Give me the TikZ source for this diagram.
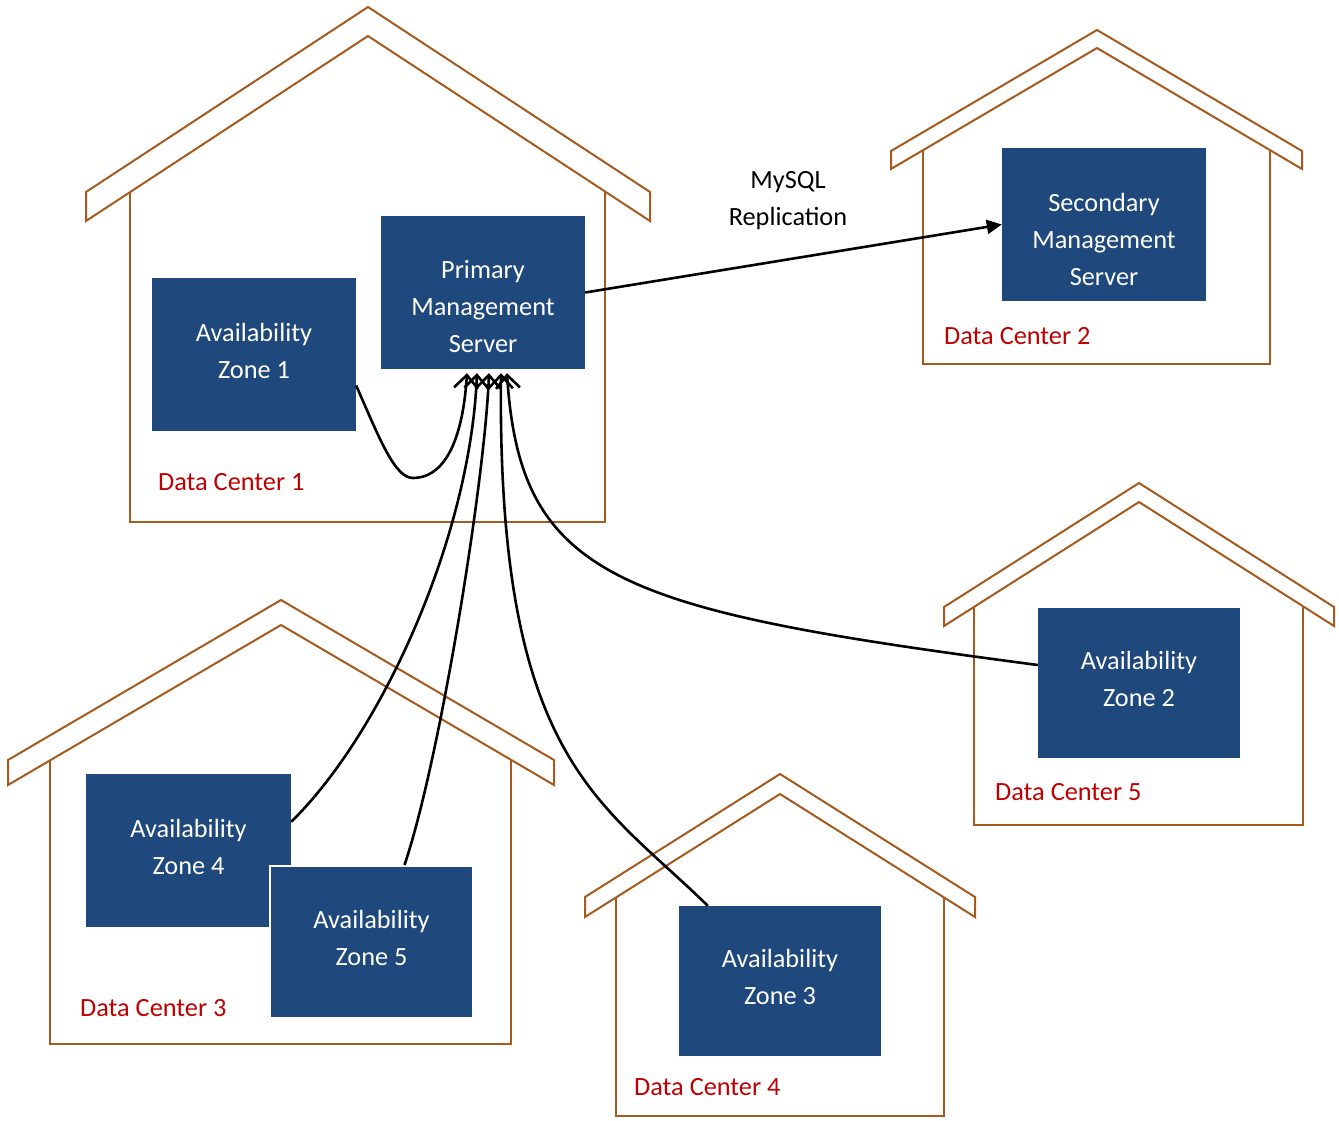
\documentclass[tikz,border=0pt]{standalone}
\usepackage{fontspec}
\setmainfont{Carlito}
\usetikzlibrary{arrows.meta}
\definecolor{boxblue}{RGB}{31,73,125}
\definecolor{roofbrown}{RGB}{166,90,30}
\definecolor{dcred}{RGB}{192,0,0}
\begin{document}
\begin{tikzpicture}[x=1pt,y=-1pt,
    house/.style={draw=roofbrown,line width=2pt,line join=miter},
    zone/.style={fill=boxblue,minimum width=204,minimum height=153,inner sep=0pt},
    zonetext/.style={text=white,align=center,inner sep=0pt},
    dclabel/.style={text=dcred,anchor=west,inner sep=0pt},
    link/.style={line width=2.6pt,-{Straight Barb[length=13pt,width=24pt]}},
    every node/.style={font=\fontsize{26.3pt}{37pt}\selectfont}]
    \useasboundingbox (0,0) rectangle (1339,1120);

    % houses: roof ends, apex, thickness, walls, floor
    \foreach \lx/\ax/\rx/\ey/\ay/\t/\wl/\wr/\yb in {86/368/650/192/7/29/130/605/522,
        891/1097/1302/151/30/18/923/1270/364, 944/1139/1334/607/483/19/974/1303/825,
        8/281/554/760/600/25/50/511/1044, 585/780/975/897/774/20/616/944/1116} {
        \draw[house] (\lx,{\ey+\t}) -- (\lx,\ey) -- (\ax,\ay) -- (\rx,\ey) -- (\rx,{\ey+\t}) -- (\ax,{\ay+\t}) -- cycle;
        \draw[house] (\wl,\ey) -- (\wl,\yb) -- (\wr,\yb) -- (\wr,\ey);
    }

    \node[zone,label={[zonetext,yshift=4]center:{Availability\\Zone 1}}] (az1) at (254,354.5) {};
    \node[zone,label={[zonetext,yshift=-14.5]center:{Primary\\Management\\Server}}] (pms) at (483,292.5) {};
    \node[zone,label={[zonetext,yshift=-14.5]center:{Secondary\\Management\\Server}}] (sms) at (1104,224.5) {};
    \node[zone,minimum width=202,minimum height=150,
        label={[zonetext,yshift=4]center:{Availability\\Zone 2}}] (az2) at (1139,683) {};
    \node[zone,minimum width=205,label={[zonetext,yshift=4]center:{Availability\\Zone 4}}] (az4) at (188.5,850.5) {};
    \node[zone,minimum width=203,minimum height=152,draw=white,line width=2pt,
        label={[zonetext,yshift=4]center:{Availability\\Zone 5}}] (az5) at (371.5,942) {};
    \node[zone,minimum width=202,minimum height=150,
        label={[zonetext,yshift=4]center:{Availability\\Zone 3}}] (az3) at (780,981) {};

    \node[dclabel] (dc1) at (158,482) {Data Center 1};
    \node[dclabel] (dc2) at (944,336) {Data Center 2};
    \node[dclabel] (dc5) at (995,792) {Data Center 5};
    \node[dclabel] (dc3) at (80,1008) {Data Center 3};
    \node[dclabel] (dc4) at (634,1087) {Data Center 4};

    \node[align=center] (repl) at (788,201) {MySQL\\Replication};
    \draw[line width=2.6pt,-{Triangle[length=15pt,width=14pt]}] (pms.east) -- (sms.west);

    % zones to the primary server
    \draw[link] ([shift={(0,31)}]az1.east) .. controls (380,440) and (395,478) .. (413,478)
        .. controls (440,478) and (462,450) .. ([shift={(-16,4)}]pms.south);
    \draw[link] ([shift={(0,48)}]az4.north east) .. controls (380,735) and (470,540) .. ([shift={(-6,4)}]pms.south);
    \draw[link] ([shift={(33,0)}]az5.north) .. controls (440,760) and (485,480) .. ([shift={(6,4)}]pms.south);
    \draw[link] ([shift={(29,0)}]az3.north west) .. controls (600,800) and (497,760) .. ([shift={(18,4)}]pms.south);
    \draw[link] ([shift={(0,-18)}]az2.west) .. controls (620,610) and (520,580) .. ([shift={(24,4)}]pms.south);
\end{tikzpicture}
\end{document}
